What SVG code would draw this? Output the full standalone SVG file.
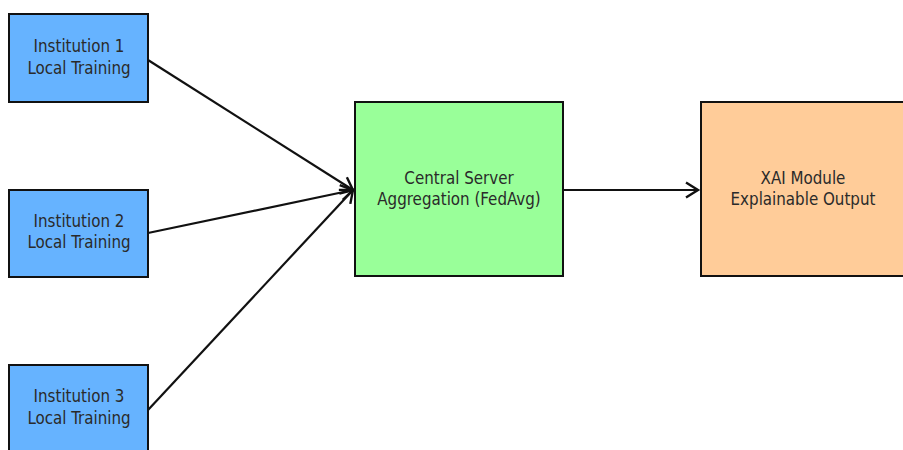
<svg xmlns="http://www.w3.org/2000/svg" width="903" height="450" viewBox="0 0 903 450">
<style>
.box{stroke:#111;stroke-width:2}
.t{font-family:"DejaVu Sans Condensed","DejaVu Sans",sans-serif;font-stretch:condensed;font-size:16.8px;fill:#2a2a2a;text-anchor:middle}
.c{stroke:#111;stroke-width:2.2;fill:none;marker-end:url(#ah)}
</style>
<defs>
<marker id="ah" markerWidth="18" markerHeight="18" refX="15" refY="9" orient="auto" markerUnits="userSpaceOnUse">
<path d="M3,1.5 L15,9 L3,16.5" fill="none" stroke="#111" stroke-width="2.4"/>
</marker>
</defs>
<rect width="903" height="450" fill="#fff"/>
<g id="connectors">
<line class="c" x1="148" y1="60" x2="353" y2="190"/>
<line class="c" x1="148" y1="233" x2="353" y2="190"/>
<line class="c" x1="148" y1="410" x2="353" y2="190"/>
<line class="c" x1="563" y1="190" x2="698" y2="190"/>
</g>
<g id="inst1">
<rect class="box" x="9" y="14" width="139" height="88" fill="#66b3ff"/>
<text class="t" x="79" y="52">Institution 1</text>
<text class="t" x="79" y="74">Local Training</text>
</g>
<g id="inst2">
<rect class="box" x="9" y="190" width="139" height="87" fill="#66b3ff"/>
<text class="t" x="79" y="227">Institution 2</text>
<text class="t" x="79" y="248">Local Training</text>
</g>
<g id="inst3">
<rect class="box" x="9" y="365" width="139" height="95" fill="#66b3ff"/>
<text class="t" x="79" y="402">Institution 3</text>
<text class="t" x="79" y="424">Local Training</text>
</g>
<g id="server">
<rect class="box" x="355" y="102" width="208" height="174" fill="#99ff99"/>
<text class="t" x="459" y="184">Central Server</text>
<text class="t" x="459" y="205">Aggregation (FedAvg)</text>
</g>
<g id="xai">
<rect class="box" x="701" y="102" width="212" height="174" fill="#ffcc99"/>
<text class="t" x="803" y="184">XAI Module</text>
<text class="t" x="803" y="205">Explainable Output</text>
</g>
</svg>
